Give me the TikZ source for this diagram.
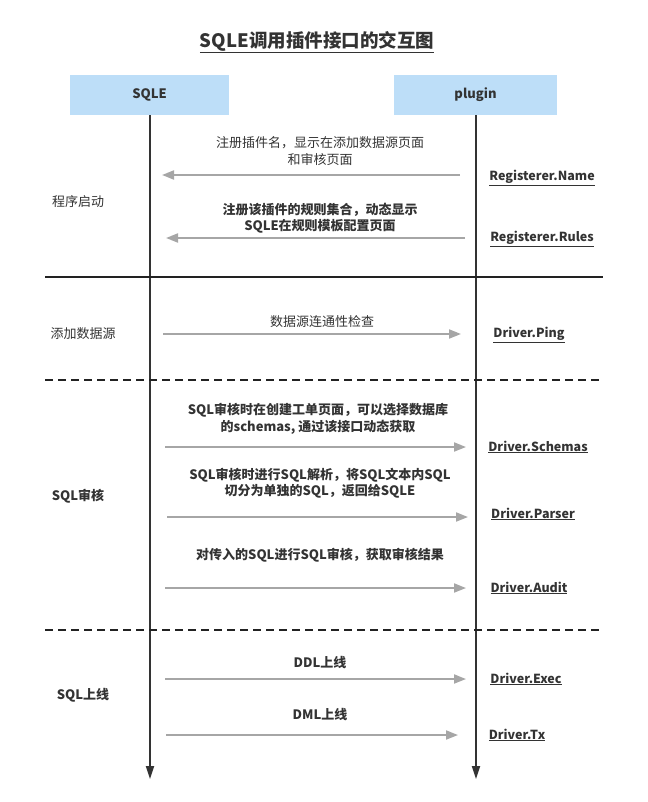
\documentclass[tikz,border=0pt]{standalone}
\usepackage{fontspec}
\setmainfont{Noto Sans CJK SC}
\usetikzlibrary{arrows.meta}
\definecolor{hdr}{HTML}{BDDEF8}
\definecolor{lifeln}{HTML}{333333}
\definecolor{msgc}{HTML}{A6A6A6}
\definecolor{sepc}{HTML}{222222}
\definecolor{txt}{HTML}{333333}
\begin{document}
\begin{tikzpicture}[x=1pt,y=-1pt,
  every node/.style={inner sep=0pt,text=txt},
  hdrbox/.style={fill=hdr,draw=none,minimum width=160pt,minimum height=40pt,font=\fontsize{13}{15}\selectfont\bfseries},
  lifearrow/.style={draw=lifeln,line width=1.8pt,-{Triangle[length=13pt,width=8pt]}},
  msgarrow/.style={draw=msgc,line width=1.8pt,-{Triangle[length=12pt,width=9pt]}},
  msglabel/.style={align=center,font=\fontsize{13}{16.5}\selectfont},
  msgbold/.style={align=center,font=\fontsize{13}{16.5}\selectfont\bfseries},
  apilabel/.style={font=\fontsize{12.5}{15}\selectfont\bfseries},
  phase/.style={font=\fontsize{13}{15}\selectfont},
  phasebold/.style={font=\fontsize{13}{15}\selectfont\bfseries},
  solidsep/.style={draw=sepc,line width=1.8pt},
  dashsep/.style={draw=sepc,line width=1.8pt,dash pattern=on 8pt off 5pt}]
\useasboundingbox (0,0) rectangle (647,802);
% title
\node[font=\fontsize{18.5}{20}\selectfont\bfseries] (title) at (317,42) {\underline{SQLE调用插件接口的交互图}};
% headers
\node[hdrbox,minimum width=159pt] (sqle) at (149.5,95) {SQLE};
\node[hdrbox,minimum width=163pt] (plugin) at (475.5,95) {plugin};
% lifelines
\coordinate (sqleend) at (150,779);
\coordinate (plugend) at (476,779);
\draw[lifearrow] (sqle.south -| sqleend) -- (sqleend);
\draw[lifearrow] (plugin.south -| plugend) -- (plugend);
% separators
\coordinate (s1a) at (45,277); \coordinate (s1b) at (603,277);
\coordinate (s2a) at (45,380); \coordinate (s2b) at (603,380);
\coordinate (s3a) at (45,630); \coordinate (s3b) at (603,630);
\draw[solidsep] (s1a) -- (s1b);
\draw[dashsep] (s2a) -- (s2b);
\draw[dashsep] (s3a) -- (s3b);
% phase labels
\node[phase] (p1) at (78,202) {程序启动};
\node[phase] (p2) at (83,334) {添加数据源};
\node[phasebold] (p3) at (78,496) {SQL审核};
\node[phasebold] (p4) at (83,695) {SQL上线};
% section 1
\node[msglabel] (m1) at (320,151) {注册插件名，显示在添加数据源页面\\和审核页面};
\coordinate (a1s) at (460,175); \coordinate (a1e) at (162,175);
\draw[msgarrow] (a1s) -- (a1e);
\node[apilabel] (api1) at (542,178) {\underline{Registerer.Name}};
\node[msgbold] (m2) at (320,218) {注册该插件的规则集合，动态显示\\SQLE在规则模板配置页面};
\coordinate (a2s) at (465,238); \coordinate (a2e) at (166,238);
\draw[msgarrow] (a2s) -- (a2e);
\node[apilabel] (api2) at (542,239) {\underline{Registerer.Rules}};
% section 2
\node[msglabel] (m3) at (322,322) {数据源连通性检查};
\coordinate (a3s) at (163,334); \coordinate (a3e) at (461,334);
\draw[msgarrow] (a3s) -- (a3e);
\node[apilabel] (api3) at (529,335) {\underline{Driver.Ping}};
% section 3
\node[msgbold] (m4) at (318,419) {SQL审核时在创建工单页面，可以选择数据库\\的schemas, 通过该接口动态获取};
\coordinate (a4s) at (165,447); \coordinate (a4e) at (466,447);
\draw[msgarrow] (a4s) -- (a4e);
\node[apilabel] (api4) at (538,447) {\underline{Driver.Schemas}};
\node[msgbold] (m5) at (320,483) {SQL审核时进行SQL解析，将SQL文本内SQL\\切分为单独的SQL，返回给SQLE};
\coordinate (a5s) at (167,517); \coordinate (a5e) at (468,517);
\draw[msgarrow] (a5s) -- (a5e);
\node[apilabel] (api5) at (533,514) {\underline{Driver.Parser}};
\node[msgbold] (m6) at (320,555) {对传入的SQL进行SQL审核，获取审核结果};
\coordinate (a6s) at (165,588); \coordinate (a6e) at (466,588);
\draw[msgarrow] (a6s) -- (a6e);
\node[apilabel] (api6) at (529,588) {\underline{Driver.Audit}};
% section 4
\node[msgbold] (m7) at (320,663) {DDL上线};
\coordinate (a7s) at (165,679); \coordinate (a7e) at (466,679);
\draw[msgarrow] (a7s) -- (a7e);
\node[apilabel] (api7) at (526,679) {\underline{Driver.Exec}};
\node[msgbold] (m8) at (320,715) {DML上线};
\coordinate (a8s) at (166,735); \coordinate (a8e) at (458,735);
\draw[msgarrow] (a8s) -- (a8e);
\node[apilabel] (api8) at (517,735) {\underline{Driver.Tx}};
\end{tikzpicture}
\end{document}
